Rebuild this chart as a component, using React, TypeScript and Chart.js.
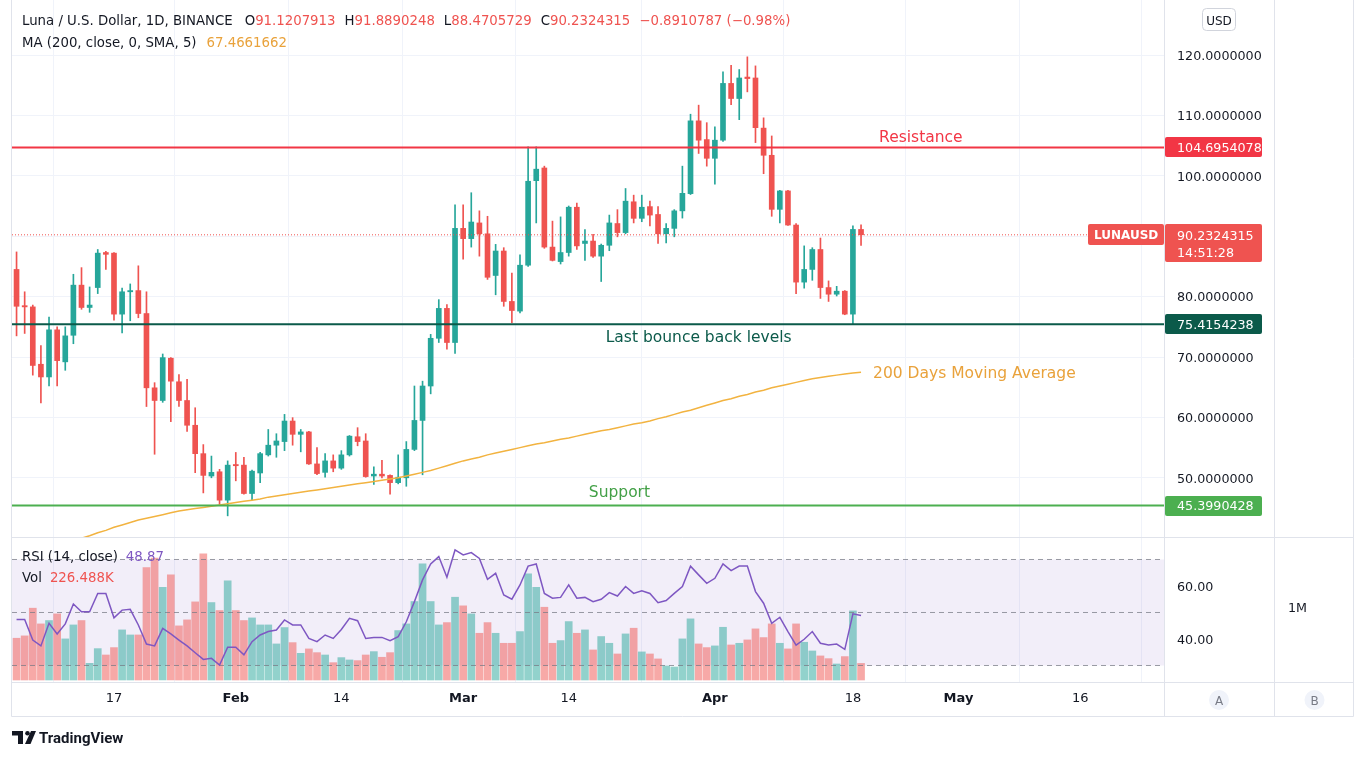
import React, { useEffect, useRef } from "react";
import { Chart, registerables } from "chart.js";

Chart.register(...registerables);

const FONT = "'DejaVu Sans', sans-serif";
const UP = "#26A69A";
const DOWN = "#EF5350";

// ---------- data ----------
const dates = [
  "2022-01-05","2022-01-06","2022-01-07","2022-01-08","2022-01-09","2022-01-10","2022-01-11","2022-01-12","2022-01-13","2022-01-14",
  "2022-01-15","2022-01-16","2022-01-17","2022-01-18","2022-01-19","2022-01-20","2022-01-21","2022-01-22","2022-01-23","2022-01-24",
  "2022-01-25","2022-01-26","2022-01-27","2022-01-28","2022-01-29","2022-01-30","2022-01-31",
  "2022-02-01","2022-02-02","2022-02-03","2022-02-04","2022-02-05","2022-02-06","2022-02-07","2022-02-08","2022-02-09","2022-02-10",
  "2022-02-11","2022-02-12","2022-02-13","2022-02-14","2022-02-15","2022-02-16","2022-02-17","2022-02-18","2022-02-19","2022-02-20",
  "2022-02-21","2022-02-22","2022-02-23","2022-02-24","2022-02-25","2022-02-26","2022-02-27","2022-02-28",
  "2022-03-01","2022-03-02","2022-03-03","2022-03-04","2022-03-05","2022-03-06","2022-03-07","2022-03-08","2022-03-09","2022-03-10",
  "2022-03-11","2022-03-12","2022-03-13","2022-03-14","2022-03-15","2022-03-16","2022-03-17","2022-03-18","2022-03-19","2022-03-20",
  "2022-03-21","2022-03-22","2022-03-23","2022-03-24","2022-03-25","2022-03-26","2022-03-27","2022-03-28","2022-03-29","2022-03-30","2022-03-31",
  "2022-04-01","2022-04-02","2022-04-03","2022-04-04","2022-04-05","2022-04-06","2022-04-07","2022-04-08","2022-04-09","2022-04-10",
  "2022-04-11","2022-04-12","2022-04-13","2022-04-14","2022-04-15","2022-04-16","2022-04-17","2022-04-18","2022-04-19",
];

const openPrice = [
  84.5,78.5,78.3,68.8,66.7,74.5,69.2,73.6,81.9,78.2, 81.5,87.3,87.2,77.1,80.8,81.0,77.2,64.9,62.8,69.8, 65.9,62.8,58.7,54.0,50.3,51.0,46.3,
  52.2,52.1,47.4,50.8,53.8,55.4,56.0,59.4,57.2,57.6, 52.3,50.9,52.8,51.6,53.8,56.8,56.1,50.3,50.6,50.4, 49.2,50.0,54.7,59.5,65.2,73.1,78.05,72.4,
  91.3,89.6,92.2,90.4,83.5,87.55,79.2,77.6,85.2,99.2, 101.3,88.2,85.8,87.3,94.8,88.8,89.2,86.7,88.5,92.1, 90.6,95.7,92.96,94.9,93.6,90.4,91.3,94.2,97.05,109.1,106.0,
  102.9,105.9,115.3,112.8,116.35,116.2,107.9,103.4,94.45,97.5, 91.85,82.4,84.5,87.8,81.5,80.4,80.9,77.1,91.1207913,
];
const highPrice = [
  87.4,80.8,78.6,71.9,76.6,75.0,75.0,83.7,84.8,81.6, 87.8,87.5,87.3,81.4,82.1,85.1,80.8,65.75,70.5,69.9, 67.1,66.3,61.6,55.5,53.6,51.4,52.8,
  54.2,53.4,51.3,54.2,58.0,57.3,60.5,59.96,58.0,57.7, 55.0,54.0,53.8,54.5,57.0,58.3,57.3,51.8,52.9,50.5, 53.8,56.0,65.2,66.0,73.75,79.5,78.7,95.2,
  95.2,97.2,94.2,93.3,88.65,88.1,83.9,86.9,104.8,104.8, 101.6,92.5,93.2,95.0,95.5,91.1,90.3,88.7,93.5,94.4, 97.9,96.8,96.8,95.8,94.9,92.1,94.4,101.6,110.2,111.7,108.8,
  108.1,117.2,118.3,117.6,119.7,118.2,109.6,106.6,97.6,97.6, 92.1,88.4,88.1,89.7,82.6,81.7,81.0,91.7,91.8890248,
];
const lowPrice = [
  73.5,73.9,67.0,62.4,65.2,65.2,67.8,72.2,77.9,77.4, 80.5,84.5,76.1,74.0,76.0,76.5,61.8,53.9,62.5,59.3, 61.8,57.7,50.85,47.5,50.0,45.6,43.7,
  49.5,47.3,46.4,49.2,53.6,53.4,54.5,55.4,54.3,52.2, 50.5,50.1,51.0,51.4,53.6,55.3,50.1,48.9,50.0,47.3, 49.0,48.6,54.5,50.5,63.9,72.4,71.3,70.6,
  86.2,88.2,86.7,82.85,80.3,78.4,75.7,77.3,85.0,92.2, 88.0,85.9,85.4,86.7,87.8,86.0,86.5,82.5,87.6,89.9, 90.4,92.2,92.4,91.7,88.8,88.9,89.9,93.0,96.9,103.7,101.6,
  98.6,105.7,111.8,109.3,113.9,105.5,100.35,93.3,92.2,91.8, 80.5,81.4,82.7,79.7,79.2,80.1,77.0,75.4,88.4705729,
];
const closePrice = [
  78.4,78.3,68.6,66.7,74.5,69.4,73.5,81.9,78.2,78.6, 87.2,87.0,77.1,80.8,81.0,77.2,64.9,62.8,69.9,66.0, 62.8,58.7,54.0,50.4,50.9,46.3,52.1,
  52.0,47.4,51.1,54.0,55.4,56.1,59.4,57.2,57.6,52.3, 50.7,52.8,51.6,53.8,56.9,56.0,50.2,50.6,50.3,49.2, 50.1,54.7,59.5,65.2,73.1,78.05,72.4,91.3,
  89.6,92.35,90.4,83.2,87.55,79.2,77.7,85.2,99.1,101.1, 88.2,86.0,87.3,94.8,88.4,89.2,86.7,88.5,92.2,90.6, 95.8,92.96,94.8,93.5,90.4,91.3,94.2,97.1,109.1,105.9,102.9,
  105.9,115.3,112.8,116.2,116.1,107.97,103.4,94.45,97.5,91.85, 82.4,84.5,87.8,81.5,80.4,80.9,77.1,91.1235102,90.2324315,
];
const volume = [
  571000,603000,982000,767000,813000,904000,562000,753000,813000,228000, 429000,342000,443000,685000,616000,616000,1539000,1667000,1269000,1438000, 740000,822000,1068000,1726000,1059000,950000,1356000,
  950000,813000,849000,753000,753000,493000,717000,511000,365000,425000, 374000,342000,237000,306000,274000,265000,342000,388000,311000,374000, 676000,767000,1073000,1589000,1073000,753000,785000,1132000,
  1014000,904000,639000,785000,639000,502000,502000,662000,1452000,1269000, 995000,502000,539000,799000,639000,685000,411000,594000,502000,356000, 630000,708000,384000,356000,288000,192000,178000,562000,836000,493000,443000,
  466000,721000,479000,502000,548000,699000,580000,767000,502000,425000, 767000,516000,397000,329000,292000,219000,320000,945000,226488,
];
const rsi = [
  47.4,47.4,39.6,37.4,45.9,41.9,45.7,53.2,50.3,50.3, 57.2,57.2,48.0,50.9,51.2,45.3,38.1,37.4,44.0,41.9, 39.6,37.4,34.8,32.3,32.7,30.2,36.9,
  36.9,34.0,39.0,41.5,42.8,43.4,47.2,45.3,45.3,40.2, 39.0,41.5,40.2,43.6,47.8,46.9,40.2,40.6,40.6,39.4, 40.9,46.5,54.1,62.3,68.3,71.1,63.3,73.6,
  71.7,72.6,70.4,62.5,64.8,56.6,55.0,60.4,67.5,68.3, 57.2,55.4,55.7,60.4,55.4,55.7,54.1,55.0,57.5,56.2, 59.8,57.2,58.2,57.2,53.7,54.5,57.2,59.8,67.5,64.2,61.0,
  62.9,68.3,65.8,67.5,67.5,57.9,53.5,45.9,48.2,42.8, 37.7,39.9,42.8,38.4,37.7,38.1,36.1,49.5,48.87,
];
const ma200 = [
  36.5,37.0,37.4,37.9,38.3,38.7,39.2,39.6,40.0,40.4, 40.9,41.3,41.8,42.2,42.6,43.0,43.3,43.6,43.9,44.2, 44.5,44.7,44.9,45.1,45.3,45.5,45.7,
  45.9,46.1,46.3,46.5,46.8,47.0,47.2,47.4,47.6,47.8, 48.0,48.2,48.4,48.6,48.8,49.0,49.2,49.4,49.6,49.8, 50.0,50.3,50.6,50.9,51.2,51.6,52.0,52.4,
  52.8,53.1,53.4,53.8,54.1,54.4,54.7,55.0,55.3,55.6, 55.8,56.1,56.4,56.6,56.9,57.2,57.5,57.8,58.0,58.3, 58.6,58.9,59.1,59.4,59.8,60.1,60.5,60.9,61.2,61.6,62.0,
  62.4,62.8,63.1,63.5,63.8,64.2,64.5,64.9,65.2,65.5, 65.8,66.1,66.4,66.6,66.8,67.0,67.2,67.35,67.4661662,
];

const priceTicks = [50, 60, 70, 80, 90, 100, 110, 120];
const rsiTicks = [40, 60];
const volTicks = [1000000];
const rsiBands = [70, 50, 30];
const timeTickDates = ["2022-01-17","2022-02-01","2022-02-14","2022-03-01","2022-03-14","2022-04-01","2022-04-18","2022-05-01","2022-05-16"];
const timeTickLabels = ["17","Feb","14","Mar","14","Apr","18","May","16"];

const resistanceLevel = 104.6954078;
const bounceLevel = 75.4154238;
const supportLevel = 45.3990428;
const levelLabels = ["Resistance", "Last bounce back levels", "Support", "200 Days Moving Average"];
const levelLabelDates = ["2022-04-26", "2022-03-30", "2022-03-20"];
const titleText = "Luna / U.S. Dollar, 1D, BINANCE";
const maTitle = "MA (200, close, 0, SMA, 5)";
const rsiTitle = "RSI (14, close)";
const volTitle = "Vol";
const symbol = "LUNAUSD";
const countdown = "14:51:28";

// ---------- helpers ----------
const BASE = Date.UTC(2022, 0, 17);
const dayIndex = (s: string) => {
  const [y, m, d] = s.split("-").map(Number);
  return (Date.UTC(y, m - 1, d) - BASE) / 86400000;
};
const VIEW_MIN = dayIndex(dates[0]) - 0.56;
const VIEW_MAX = VIEW_MIN + 141.87;
const TY = 1.5; // baseline correction for middle-aligned text

function rr(ctx: CanvasRenderingContext2D, x: number, y: number, w: number, h: number, r: number) {
  ctx.beginPath();
  ctx.moveTo(x + r, y);
  ctx.arcTo(x + w, y, x + w, y + h, r);
  ctx.arcTo(x + w, y + h, x, y + h, r);
  ctx.arcTo(x, y + h, x, y, r);
  ctx.arcTo(x, y, x + w, y, r);
  ctx.closePath();
}

const minus = (s: string) => s.replace("-", "\u2212");

const noPad = (s: any) => {
  s.paddingTop = 0;
  s.paddingBottom = 0;
};

const overlayPlugin = {
  id: "overlay",
  beforeDraw(chart: any) {
    const { ctx, width, height } = chart;
    ctx.save();
    ctx.fillStyle = "#ffffff";
    ctx.fillRect(0, 0, width, height);
    ctx.restore();
  },
  afterDraw(chart: any) {
    const ctx: CanvasRenderingContext2D = chart.ctx;
    const { chartArea, scales } = chart;
    const xS = scales.x, yS = scales.y, rS = scales.yRsi, vS = scales.yVol;
    const n = closePrice.length;
    const last = closePrice[n - 1];
    const prev = closePrice[n - 2];
    ctx.save();

    // frame lines
    ctx.strokeStyle = "#E0E3EB";
    ctx.lineWidth = 1;
    const L = Math.round(chartArea.left) - 0.5;
    const R = Math.round(vS.right) + 0.5;
    const B = Math.round(xS.bottom) + 0.5;
    const hl = (y: number) => { ctx.beginPath(); ctx.moveTo(L, Math.round(y) + 0.5); ctx.lineTo(R, Math.round(y) + 0.5); ctx.stroke(); };
    const vl = (x: number) => { ctx.beginPath(); ctx.moveTo(Math.round(x) + 0.5, 0); ctx.lineTo(Math.round(x) + 0.5, B); ctx.stroke(); };
    hl(rS.top); hl(xS.top); hl(xS.bottom);
    vl(chartArea.left - 1); vl(yS.left); vl(vS.left); vl(vS.right);

    // header
    ctx.textAlign = "left";
    ctx.textBaseline = "middle";
    ctx.font = `13.3px ${FONT}`;
    let x = 22;
    const put = (t: string, c: string, gap: number, y: number) => {
      ctx.fillStyle = c;
      ctx.fillText(t, x, y + TY);
      x += ctx.measureText(t).width + gap;
    };
    const valColor = last >= openPrice[n - 1] ? UP : DOWN;
    const chg = last - prev;
    put(titleText, "#131722", 12, 20);
    put("O", "#131722", 0, 20); put(openPrice[n - 1].toFixed(7), valColor, 9, 20);
    put("H", "#131722", 0, 20); put(highPrice[n - 1].toFixed(7), valColor, 9, 20);
    put("L", "#131722", 0, 20); put(lowPrice[n - 1].toFixed(7), valColor, 9, 20);
    put("C", "#131722", 0, 20); put(last.toFixed(7), valColor, 9, 20);
    put(`${minus(chg.toFixed(7))} (${minus(((chg / prev) * 100).toFixed(2))}%)`, valColor, 0, 20);
    x = 22;
    put(maTitle, "#131722", 10, 42);
    put(ma200[n - 1].toFixed(7), "#E9A23B", 0, 42);
    x = 22;
    put(rsiTitle, "#131722", 8, rS.top + 19);
    put(rsi[n - 1].toFixed(2), "#7E57C2", 0, rS.top + 19);
    x = 22;
    put(volTitle, "#131722", 8, rS.top + 40);
    put((volume[n - 1] / 1000).toFixed(3) + "K", DOWN, 0, rS.top + 40);

    // level annotations
    ctx.font = `15.5px ${FONT}`;
    ctx.textAlign = "center";
    ctx.fillStyle = "#F23645";
    ctx.fillText(levelLabels[0], xS.getPixelForValue(dayIndex(levelLabelDates[0])) + 3, yS.getPixelForValue(resistanceLevel) - 11 + TY);
    ctx.fillStyle = "#0B5A4A";
    ctx.fillText(levelLabels[1], xS.getPixelForValue(dayIndex(levelLabelDates[1])), yS.getPixelForValue(bounceLevel) + 12 + TY);
    ctx.fillStyle = "#43A047";
    ctx.fillText(levelLabels[2], xS.getPixelForValue(dayIndex(levelLabelDates[2])) + 2, yS.getPixelForValue(supportLevel) - 14 + TY);
    ctx.textAlign = "left";
    ctx.fillStyle = "#E9A23B";
    ctx.fillText(levelLabels[3], xS.getPixelForValue(dayIndex(dates[n - 1])) + 12, yS.getPixelForValue(ma200[n - 1]) + TY);

    // price scale labels
    const bx = yS.left + 1;
    const bw = 97;
    ctx.font = `12.7px ${FONT}`;
    const tag = (val: number, bg: string) => {
      const y = yS.getPixelForValue(val);
      ctx.fillStyle = bg;
      rr(ctx, bx, Math.round(y) - 10, bw, 20, 2);
      ctx.fill();
      ctx.fillStyle = "#ffffff";
      ctx.fillText(val.toFixed(7), yS.left + 13, y + TY);
    };
    tag(resistanceLevel, "#F23645");
    tag(bounceLevel, "#0B5A4A");
    tag(supportLevel, "#4CAF50");
    const yp = yS.getPixelForValue(last);
    ctx.fillStyle = DOWN;
    rr(ctx, bx, Math.round(yp) - 11, bw, 38, 2);
    ctx.fill();
    rr(ctx, yS.left - 76, Math.round(yp) - 11, 76, 21, 2);
    ctx.fill();
    ctx.fillStyle = "#ffffff";
    ctx.fillText(last.toFixed(7), yS.left + 13, yp + TY);
    ctx.fillText(countdown, yS.left + 13, yp + 17 + TY);
    ctx.font = `bold 12px ${FONT}`;
    ctx.fillText(symbol, yS.left - 70, yp + TY);

    // USD button
    const cx = (yS.left + yS.right) / 2;
    ctx.strokeStyle = "#D1D4DC";
    rr(ctx, cx - 16.5, 8.5, 33, 22, 4);
    ctx.stroke();
    ctx.fillStyle = "#131722";
    ctx.textAlign = "center";
    ctx.font = `12px ${FONT}`;
    ctx.fillText("USD", cx, 20 + TY);

    // A / B buttons
    const cy = (xS.top + xS.bottom) / 2 + 1;
    [["A", cx], ["B", (vS.left + vS.right) / 2 + 1]].forEach(([t, px]) => {
      ctx.fillStyle = "#F0F3FA";
      ctx.beginPath();
      ctx.arc(px as number, cy, 10, 0, Math.PI * 2);
      ctx.fill();
      ctx.fillStyle = "#787B86";
      ctx.fillText(t as string, px as number, cy + TY);
    });

    // logo
    const ly = 731;
    ctx.fillStyle = "#131722";
    ctx.fillRect(12, ly, 11, 4.5);
    ctx.fillRect(18, ly, 5, 13);
    ctx.beginPath();
    ctx.arc(27.5, ly + 2.3, 2.3, 0, Math.PI * 2);
    ctx.fill();
    ctx.beginPath();
    ctx.moveTo(25, ly + 13);
    ctx.lineTo(30.5, ly + 13);
    ctx.lineTo(36, ly);
    ctx.lineTo(31, ly);
    ctx.closePath();
    ctx.fill();
    ctx.textAlign = "left";
    ctx.font = "bold 15px Roboto, sans-serif";
    ctx.fillText("TradingView", 39, ly + 7 + TY);

    ctx.restore();
  },
};

export default function App() {
  const ref = useRef<HTMLCanvasElement>(null);

  useEffect(() => {
    if (!ref.current) return;
    const xs = dates.map(dayIndex);
    const up = closePrice.map((c, i) => c >= openPrice[i]);
    const candleColor = up.map((u) => (u ? UP : DOWN));
    const volColor = up.map((u) => (u ? "rgba(38,166,154,0.5)" : "rgba(239,83,80,0.5)"));
    const span = (v: number) => [{ x: VIEW_MIN, y: v }, { x: VIEW_MAX, y: v }];
    const monthLabel = (i: number) => /^[A-Za-z]/.test(timeTickLabels[i] || "");

    const chart = new Chart(ref.current, {
      type: "bar",
      data: {
        datasets: [
          { type: "line", label: "Resistance", data: span(resistanceLevel), borderColor: "#F23645", borderWidth: 2, pointRadius: 0, yAxisID: "y", order: -3 },
          { type: "line", label: "Bounce", data: span(bounceLevel), borderColor: "#0B5A4A", borderWidth: 2, pointRadius: 0, yAxisID: "y", order: -3 },
          { type: "line", label: "Support", data: span(supportLevel), borderColor: "#4CAF50", borderWidth: 2, pointRadius: 0, yAxisID: "y", order: -3 },
          { type: "line", label: "Last price", data: span(closePrice[closePrice.length - 1]), borderColor: DOWN, borderWidth: 1, borderDash: [1, 2], pointRadius: 0, yAxisID: "y", order: -2 },
          { type: "line", label: "MA 200", data: xs.map((x, i) => ({ x, y: ma200[i] })), borderColor: "#F2B340", borderWidth: 1.5, pointRadius: 0, tension: 0, yAxisID: "y", order: -1 },
          { type: "bar", label: "Body", data: xs.map((x, i) => ({ x, y: [openPrice[i], closePrice[i]] })), backgroundColor: candleColor, barThickness: 5, grouped: false, minBarLength: 1, borderWidth: 0, yAxisID: "y", order: 1 },
          { type: "bar", label: "Wick", data: xs.map((x, i) => ({ x, y: [lowPrice[i], highPrice[i]] })), backgroundColor: candleColor, barThickness: 1, grouped: false, borderWidth: 0, yAxisID: "y", order: 2 },
          { type: "line", label: "RSI", data: xs.map((x, i) => ({ x, y: rsi[i] })), borderColor: "#7E57C2", borderWidth: 1.5, pointRadius: 0, tension: 0, yAxisID: "yRsi", order: 0 },
          ...rsiBands.map((b) => ({ type: "line", label: "RSI " + b, data: span(b), borderColor: "rgba(120,123,134,0.75)", borderWidth: 1, borderDash: [5, 4], pointRadius: 0, yAxisID: "yRsi", order: 3 })),
          { type: "bar", label: "Volume", data: xs.map((x, i) => ({ x, y: volume[i] })), backgroundColor: volColor, barThickness: 7, grouped: false, borderWidth: 0, yAxisID: "yVol", order: 5 },
          { type: "line", label: "RSI band", data: span(rsiBands[0]), borderColor: "transparent", borderWidth: 0, pointRadius: 0, fill: { value: rsiBands[2] }, backgroundColor: "rgba(126,87,194,0.1)", yAxisID: "yRsi", order: 10 },
        ] as any,
      },
      options: {
        responsive: false,
        animation: false,
        devicePixelRatio: 1,
        events: [],
        layout: { padding: { left: 12, right: 14, top: 0, bottom: 43 } },
        plugins: { legend: { display: false }, tooltip: { enabled: false } },
        scales: {
          x: {
            type: "linear",
            position: "bottom",
            min: VIEW_MIN,
            max: VIEW_MAX,
            offset: false,
            afterBuildTicks: (s: any) => { s.ticks = timeTickDates.map((d) => ({ value: dayIndex(d) })); },
            afterFit: (s: any) => { s.height = 34; s.paddingLeft = 0; s.paddingRight = 0; },
            ticks: {
              autoSkip: false,
              maxRotation: 0,
              padding: 9,
              color: "#131722",
              font: (c: any) => ({ family: FONT, size: 13, weight: monthLabel(c.index) ? "bold" : "normal" }),
              callback: (_v: any, i: number) => timeTickLabels[i],
            },
            grid: { color: "#F0F3FA", drawTicks: false },
            border: { display: true, color: "#E0E3EB" },
          },
          y: {
            type: "linear",
            position: "right",
            stack: "panes",
            stackWeight: 537,
            weight: 0,
            min: 40.2,
            max: 129.11,
            afterBuildTicks: (s: any) => { s.ticks = priceTicks.map((v) => ({ value: v })); },
            afterFit: (s: any) => { s.width = 110; noPad(s); },
            ticks: { padding: 13, labelOffset: TY, color: "#131722", font: { family: FONT, size: 12.7 }, callback: (v: any) => Number(v).toFixed(7) },
            grid: { color: "#F0F3FA", drawTicks: false },
            border: { display: true, color: "#E0E3EB" },
          },
          yRsi: {
            type: "linear",
            position: "right",
            stack: "panes",
            stackWeight: 145,
            weight: 0,
            min: 23.77,
            max: 78.49,
            afterBuildTicks: (s: any) => { s.ticks = rsiTicks.map((v) => ({ value: v })); },
            afterFit: (s: any) => { s.width = 110; noPad(s); },
            ticks: { padding: 13, labelOffset: TY, color: "#131722", font: { family: FONT, size: 12.7 }, callback: (v: any) => Number(v).toFixed(2) },
            grid: { display: false, drawTicks: false },
            border: { display: true, color: "#E0E3EB" },
          },
          yVol: {
            type: "linear",
            position: "right",
            weight: 1,
            min: -27400,
            max: 9300000,
            afterBuildTicks: (s: any) => { s.ticks = volTicks.map((v) => ({ value: v })); },
            afterFit: (s: any) => { s.width = 79; noPad(s); },
            ticks: { padding: 14, labelOffset: TY, color: "#131722", font: { family: FONT, size: 12.7 }, callback: (v: any) => Number(v) / 1000000 + "M" },
            grid: { display: false, drawTicks: false },
            border: { display: true, color: "#E0E3EB" },
          },
        },
      } as any,
      plugins: [overlayPlugin],
    });
    return () => chart.destroy();
  }, []);

  return (
    <div style={{ position: "absolute", left: 0, top: 0, width: 1367, height: 759, background: "#ffffff" }}>
      <canvas ref={ref} width={1367} height={759} style={{ display: "block" }} />
    </div>
  );
}
